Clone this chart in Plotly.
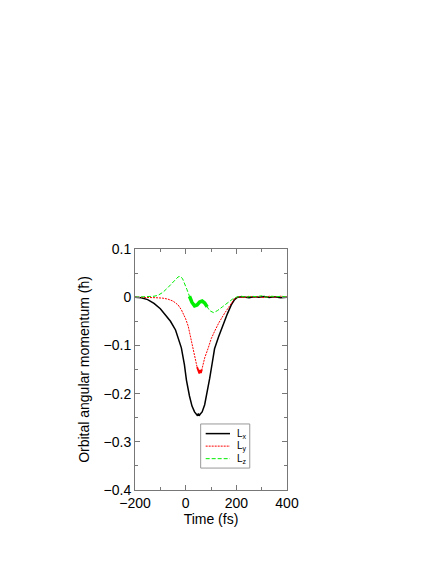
import plotly.graph_objects as go

# time axis (fs) and the three components of the orbital angular momentum
t_x = [-200, -175, -150, -125, -100, -80, -60, -40, -30, -17, -5, 3, 15, 25, 35, 42, 47, 50, 53, 57,
       65, 75, 85, 95, 105, 114, 130, 147, 165, 180, 193, 205, 225, 250, 270, 290, 310, 330, 350,
       375, 400]
l_x = [0, -0.001, -0.005, -0.013, -0.024, -0.036, -0.05, -0.068, -0.085, -0.105, -0.14, -0.172,
       -0.205, -0.226, -0.238, -0.243, -0.246, -0.241, -0.246, -0.243, -0.238, -0.223, -0.197,
       -0.168, -0.136, -0.107, -0.082, -0.058, -0.034, -0.016, -0.005, 0, 0.001, -0.001, 0.001, 0,
       0.0015, -0.0005, 0.001, -0.001, 0]

t_y = [-200, -150, -120, -90, -70, -50, -30, -17, 0, 10, 16, 25, 33, 38, 45, 50, 54, 57, 60, 64,
       75, 88, 101, 114, 130, 154, 175, 193, 210, 230, 250, 270, 290, 310, 330, 350, 375, 400]
l_y = [0, 0, -0.001, -0.002, -0.004, -0.008, -0.016, -0.026, -0.045, -0.06, -0.075, -0.098,
       -0.115, -0.132, -0.145, -0.152, -0.158, -0.151, -0.157, -0.15, -0.126, -0.107, -0.086,
       -0.071, -0.054, -0.033, -0.016, -0.003, 0.001, -0.001, 0.002, 0, 0.001, -0.001, 0.002,
       0, 0.002, 0]

t_z = [-200, -150, -125, -109, -90, -70, -55, -45, -36, -30, -24, -18, -12, -5, 5, 15, 25, 35, 45,
       55, 65, 75, 85, 95, 110, 125, 145, 165, 185, 200, 220, 240, 260, 280, 300, 320, 340, 360,
       380, 400]
l_z = [0, 0.0005, 0.002, 0.004, 0.01, 0.02, 0.028, 0.034, 0.039, 0.042, 0.043, 0.042, 0.038, 0.03,
       0.016, 0.002, -0.011, -0.018, -0.016, -0.01, -0.008, -0.012, -0.02, -0.028, -0.032, -0.028,
       -0.02, -0.012, -0.004, 0, 0.002, 0, 0.002, 0.001, 0.003, 0, 0.002, 0.001, 0.002, 0]

# portions drawn as dense bands (fast oscillation in the original data)
t_z_band = [15, 25, 35, 45, 55, 65, 75, 85]
l_z_band = [0.002, -0.011, -0.018, -0.016, -0.01, -0.008, -0.012, -0.02]
t_y_band = [45, 50, 54, 57, 60, 64]
l_y_band = [-0.145, -0.152, -0.158, -0.151, -0.157, -0.15]

AXIS = "#777777"
FONT = "Liberation Sans, Arial, sans-serif"
GREEN = "#00ee00"

fig = go.Figure()
fig.add_trace(go.Scatter(x=t_x, y=l_x, mode="lines", name="L<sub>x</sub>",
                         line=dict(color="black", width=1.5)))
fig.add_trace(go.Scatter(x=t_y, y=l_y, mode="lines", name="L<sub>y</sub>",
                         line=dict(color="#ff0000", width=1, dash="2px,1px")))
fig.add_trace(go.Scatter(x=t_y_band, y=l_y_band, mode="lines", showlegend=False,
                         line=dict(color="#ff0000", width=1.8)))
fig.add_trace(go.Scatter(x=t_z, y=l_z, mode="lines", name="L<sub>z</sub>",
                         line=dict(color=GREEN, width=1, dash="4px,2px")))
fig.add_trace(go.Scatter(x=t_z_band, y=l_z_band, mode="lines", showlegend=False,
                         line=dict(color=GREEN, width=3.5)))

axis_common = dict(showline=True, linecolor=AXIS, linewidth=1, mirror="allticks",
                   ticks="inside", ticklen=5, tickcolor=AXIS, showgrid=False, zeroline=False,
                   tickfont=dict(size=14, color="black"))

fig.update_xaxes(range=[-200, 400], tick0=-200, dtick=200,
                 minor=dict(dtick=100, ticks="inside", ticklen=3, tickcolor=AXIS),
                 title=dict(text="Time (fs)", font=dict(size=14, color="black"), standoff=4),
                 **axis_common)
fig.update_yaxes(range=[-0.4, 0.1], tick0=-0.4, dtick=0.1,
                 minor=dict(dtick=0.05, ticks="inside", ticklen=3, tickcolor=AXIS),
                 title=dict(text="Orbital angular momentum (ħ)", font=dict(size=14, color="black"),
                            standoff=10),
                 **axis_common)

# hand-drawn key (gnuplot style, tighter than plotly's legend)
fig.add_shape(type="rect", xref="paper", yref="paper", x0=0.432, x1=0.755, y0=0.091, y1=0.274,
              line=dict(color="#999999", width=1), fillcolor="white", layer="above")
key = [("L<sub>x</sub>", dict(color="black", width=1.5)),
       ("L<sub>y</sub>", dict(color="#ff0000", width=1, dash="2px,1px")),
       ("L<sub>z</sub>", dict(color=GREEN, width=1, dash="4px,2px"))]
for i, (label, ln) in enumerate(key):
    yk = 0.234 - i * 0.052
    fig.add_shape(type="line", xref="paper", yref="paper", x0=0.465, x1=0.625, y0=yk, y1=yk,
                  line=ln, layer="above")
    fig.add_annotation(xref="paper", yref="paper", x=0.66, y=yk, text=label, showarrow=False,
                       xanchor="left", yanchor="middle", font=dict(size=10, color="black"))

fig.update_layout(
    width=436, height=564,
    paper_bgcolor="white", plot_bgcolor="white",
    font=dict(family=FONT, color="black"),
    margin=dict(l=127, r=157, t=241, b=82),
    showlegend=False,
)

fig.write_html("out.html")
